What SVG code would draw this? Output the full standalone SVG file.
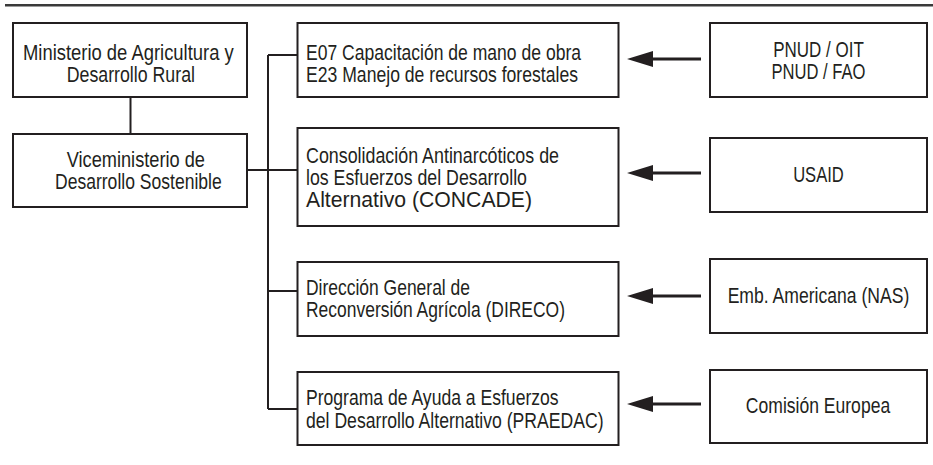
<svg xmlns="http://www.w3.org/2000/svg" width="933" height="465" viewBox="0 0 933 465">
<style>
.box{fill:#fff;stroke:#231f20;stroke-width:2}
.t{font-family:"Liberation Sans",Arial,sans-serif;font-size:22px;fill:#231f20}
.m{text-anchor:middle}
.c{fill:none;stroke:#231f20;stroke-width:2}
.ar{fill:none;stroke:#231f20;stroke-width:3}
</style>
<defs>
<marker id="ah" markerUnits="userSpaceOnUse" markerWidth="26" markerHeight="16" viewBox="0 0 26 16" refX="3" refY="8" orient="auto">
<path d="M0,0 L26,8 L0,16 Z" fill="#231f20"/>
</marker>
</defs>
<rect x="0" y="0" width="933" height="465" fill="#fff"/>
<line x1="5" y1="5.3" x2="933" y2="5.3" stroke="#3a3a3a" stroke-width="2.6"/>
<g id="connectors">
<path class="c" d="M130.5,97 V134"/>
<path class="c" d="M247,170 H297"/>
<path class="c" d="M268,55 V409"/>
<path class="c" d="M268,55 H297"/>
<path class="c" d="M268,291 H297"/>
<path class="c" d="M268,409 H297"/>
<line class="ar" x1="701" y1="59" x2="650" y2="59" marker-end="url(#ah)"/>
<line class="ar" x1="701" y1="173" x2="650" y2="173" marker-end="url(#ah)"/>
<line class="ar" x1="701" y1="296" x2="650" y2="296" marker-end="url(#ah)"/>
<line class="ar" x1="701" y1="404" x2="650" y2="404" marker-end="url(#ah)"/>
</g>
<g id="ministerio">
<rect class="box" x="13" y="23" width="234" height="74"/>
<text class="t" x="23" y="60" textLength="210.7" lengthAdjust="spacingAndGlyphs">Ministerio de Agricultura y</text>
<text class="t" x="66.7" y="82" textLength="128.3" lengthAdjust="spacingAndGlyphs">Desarrollo Rural</text>
</g>
<g id="viceministerio">
<rect class="box" x="13" y="134" width="234" height="73"/>
<text class="t" x="66.7" y="167" textLength="138.3" lengthAdjust="spacingAndGlyphs">Viceministerio de</text>
<text class="t" x="55" y="189" textLength="166.7" lengthAdjust="spacingAndGlyphs">Desarrollo Sostenible</text>
</g>
<g id="e07">
<rect class="box" x="297.5" y="23" width="321" height="74"/>
<text class="t" x="306" y="60" textLength="275" lengthAdjust="spacingAndGlyphs">E07 Capacitación de mano de obra</text>
<text class="t" x="306" y="82" textLength="272" lengthAdjust="spacingAndGlyphs">E23 Manejo de recursos forestales</text>
</g>
<g id="concade">
<rect class="box" x="297.5" y="128" width="321" height="98"/>
<text class="t" x="306" y="163" textLength="253" lengthAdjust="spacingAndGlyphs">Consolidación Antinarcóticos de</text>
<text class="t" x="306" y="185" textLength="221" lengthAdjust="spacingAndGlyphs">los Esfuerzos del Desarrollo</text>
<text class="t" x="306" y="207" textLength="226" lengthAdjust="spacingAndGlyphs">Alternativo (CONCADE)</text>
</g>
<g id="direco">
<rect class="box" x="297.5" y="262" width="321" height="74"/>
<text class="t" x="306" y="295" textLength="164" lengthAdjust="spacingAndGlyphs">Dirección General de</text>
<text class="t" x="306" y="317" textLength="259" lengthAdjust="spacingAndGlyphs">Reconversión Agrícola (DIRECO)</text>
</g>
<g id="praedac">
<rect class="box" x="297.5" y="372" width="321" height="73"/>
<text class="t" x="306" y="405" textLength="252.6" lengthAdjust="spacingAndGlyphs">Programa de Ayuda a Esfuerzos</text>
<text class="t" x="306" y="428" textLength="297.6" lengthAdjust="spacingAndGlyphs">del Desarrollo Alternativo (PRAEDAC)</text>
</g>
<g id="pnud">
<rect class="box" x="710" y="23" width="217" height="74"/>
<text class="t m" x="818.5" y="57" textLength="90.7" lengthAdjust="spacingAndGlyphs">PNUD / OIT</text>
<text class="t m" x="818.5" y="79" textLength="94" lengthAdjust="spacingAndGlyphs">PNUD / FAO</text>
</g>
<g id="usaid">
<rect class="box" x="710" y="138" width="217" height="74"/>
<text class="t m" x="818.5" y="182" textLength="50.7" lengthAdjust="spacingAndGlyphs">USAID</text>
</g>
<g id="emb">
<rect class="box" x="710" y="259" width="217" height="74"/>
<text class="t m" x="818.5" y="303" textLength="181.7" lengthAdjust="spacingAndGlyphs">Emb. Americana (NAS)</text>
</g>
<g id="comision">
<rect class="box" x="710" y="370" width="217" height="73"/>
<text class="t m" x="818" y="413" textLength="144.3" lengthAdjust="spacingAndGlyphs">Comisión Europea</text>
</g>
</svg>
